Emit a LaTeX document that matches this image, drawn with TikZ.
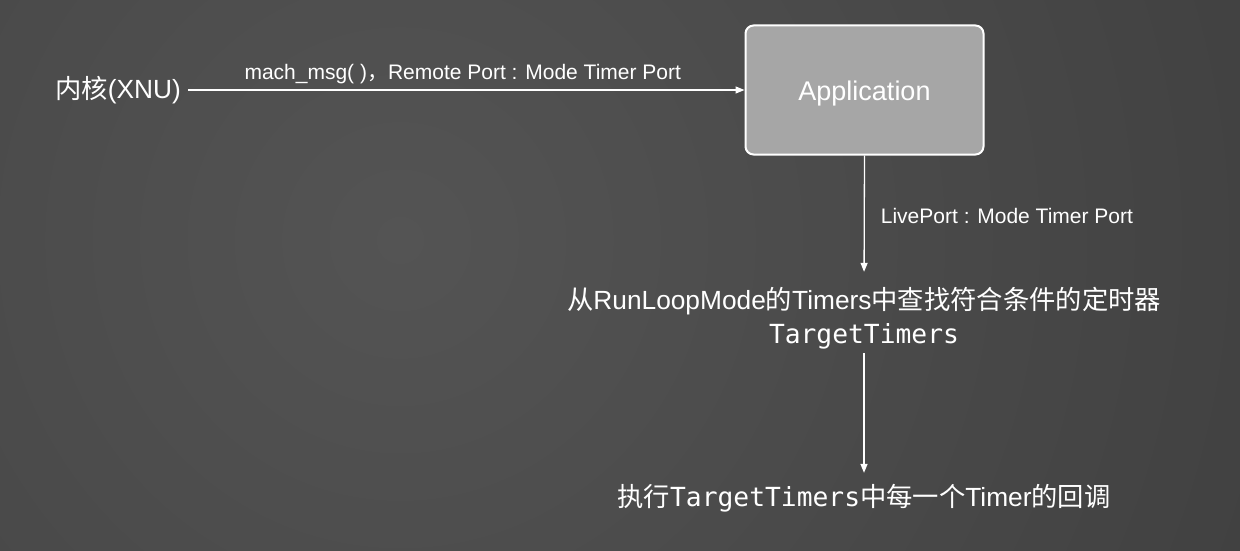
\documentclass[tikz,border=0pt]{standalone}
\usepackage{fontspec}
\setmainfont{Liberation Sans}
\newfontfamily\cjk{Noto Sans CJK SC}
\newfontfamily\monof{DejaVu Sans Mono}
\usetikzlibrary{arrows.meta}
\definecolor{bgin}{HTML}{545454}
\definecolor{bgout}{HTML}{2E2E2E}
\definecolor{boxfill}{HTML}{A6A6A6}
\tikzset{
  big/.style={text=white, font=\fontsize{26.3}{34}\selectfont, inner sep=0pt},
  lbl/.style={text=white, font=\fontsize{21}{24}\selectfont, inner sep=0pt},
  conn/.style={draw=white, line width=1.3pt, -{Triangle[length=9pt,width=7pt]}},
  appbox/.style={draw=white, line width=2pt, fill=boxfill, rounded corners=8pt,
    minimum width=238pt, minimum height=129pt, text=white, font=\fontsize{27}{30}\selectfont,
    text height=20pt, text depth=0pt}
}
\begin{document}
\begin{tikzpicture}[x=1pt,y=-1pt]
\useasboundingbox (0,0) rectangle (1240,551);
\begin{scope}
\clip (0,0) rectangle (1240,551);
\shade[inner color=bgin, outer color=bgout] (400,240) circle (1800pt);
\end{scope}
\node[big, anchor=east] (xnu) at (181,90) {{\cjk 内核}(XNU)};
\node[appbox] (app) at (864.5,90) {Application};
\node[big, align=center] (find) at (864,318) {{\cjk 从}RunLoopMode{\cjk 的}Timers{\cjk 中查找符合条件的定时器}\\{\monof TargetTimers}};
\node[big] (exec) at (864,498) {{\cjk 执行}{\monof TargetTimers}{\cjk 中每一个}Timer{\cjk 的回调}};
\draw[conn, shorten <=7pt] (xnu.east) -- node[lbl, above=5pt] {mach\_msg( ){\cjk ，}Remote Port : Mode Timer Port} (app.west);
\draw[conn, shorten >=15pt] (app.south) -- node[lbl, right=16pt, yshift=5pt] {LivePort : Mode Timer Port} (find.north);
\draw[conn, shorten <=4pt, shorten >=11pt] (find.south) -- (exec.north);
\end{tikzpicture}
\end{document}
